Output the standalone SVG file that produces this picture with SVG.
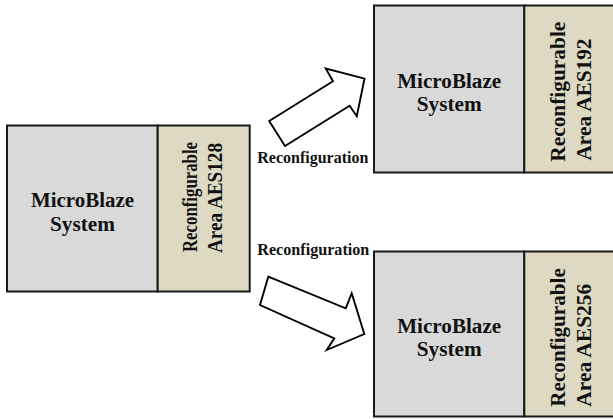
<svg xmlns="http://www.w3.org/2000/svg" width="613" height="419" viewBox="0 0 613 419">
<style>
.sys{fill:#d9d9d9;stroke:#1a1a1a;stroke-width:2}
.rec{fill:#ddd9c3;stroke:#1a1a1a;stroke-width:2}
.t{font-family:"Liberation Serif","Times New Roman",serif;font-weight:bold;fill:#111111}
.h{font-size:20px;text-anchor:middle}
.v{font-size:21px}
.lab{font-size:16px}
.arr{fill:#ffffff;stroke:#000;stroke-width:1.9;stroke-linejoin:miter}
</style>
<rect width="613" height="419" fill="#ffffff"/>
<g id="node-aes128">
  <rect class="sys" x="7" y="125.5" width="150.7" height="166"/>
  <rect class="rec" x="157.7" y="125.5" width="92" height="166"/>
  <text class="t h" x="82.5" y="207.3" textLength="103" lengthAdjust="spacingAndGlyphs">MicroBlaze</text>
  <text class="t h" x="82.5" y="230.7" textLength="65" lengthAdjust="spacingAndGlyphs">System</text>
  <text class="t v" transform="translate(197,252) rotate(-90)" textLength="110" lengthAdjust="spacingAndGlyphs">Reconfigurable</text>
  <text class="t v" transform="translate(222,253) rotate(-90)" textLength="110" lengthAdjust="spacingAndGlyphs">Area AES128</text>
</g>
<g id="node-aes192">
  <rect class="sys" x="374" y="5.5" width="150.3" height="167"/>
  <rect class="rec" x="524.3" y="5.5" width="100" height="167"/>
  <text class="t h" x="449.2" y="87.5" textLength="104" lengthAdjust="spacingAndGlyphs">MicroBlaze</text>
  <text class="t h" x="449.2" y="110.8" textLength="65" lengthAdjust="spacingAndGlyphs">System</text>
  <text class="t v" transform="translate(565,161.7) rotate(-90)" textLength="140" lengthAdjust="spacingAndGlyphs">Reconfigurable</text>
  <text class="t v" transform="translate(590.5,160.5) rotate(-90)" textLength="122" lengthAdjust="spacingAndGlyphs">Area AES192</text>
</g>
<g id="node-aes256">
  <rect class="sys" x="374" y="251.5" width="150.3" height="165"/>
  <rect class="rec" x="524.3" y="251.5" width="100" height="165"/>
  <text class="t h" x="449.2" y="332.5" textLength="104" lengthAdjust="spacingAndGlyphs">MicroBlaze</text>
  <text class="t h" x="449.2" y="355.8" textLength="65" lengthAdjust="spacingAndGlyphs">System</text>
  <text class="t v" transform="translate(565,406.7) rotate(-90)" textLength="138.5" lengthAdjust="spacingAndGlyphs">Reconfigurable</text>
  <text class="t v" transform="translate(590.5,406.7) rotate(-90)" textLength="123" lengthAdjust="spacingAndGlyphs">Area AES256</text>
</g>
<g id="connectors">
  <polygon class="arr" points="269.2,121 333,81.3 325.8,68.6 364.5,78.6 356.8,116.2 349.6,105.8 285,146"/>
  <text class="t lab" x="257.3" y="162.5" textLength="111" lengthAdjust="spacingAndGlyphs">Reconfiguration</text>
  <polygon class="arr" points="268.3,276.7 345.7,308.3 351.7,293.3 364.3,334 326.7,350 334.3,338.3 260,305"/>
  <text class="t lab" x="257.3" y="255" textLength="112" lengthAdjust="spacingAndGlyphs">Reconfiguration</text>
</g>
</svg>
